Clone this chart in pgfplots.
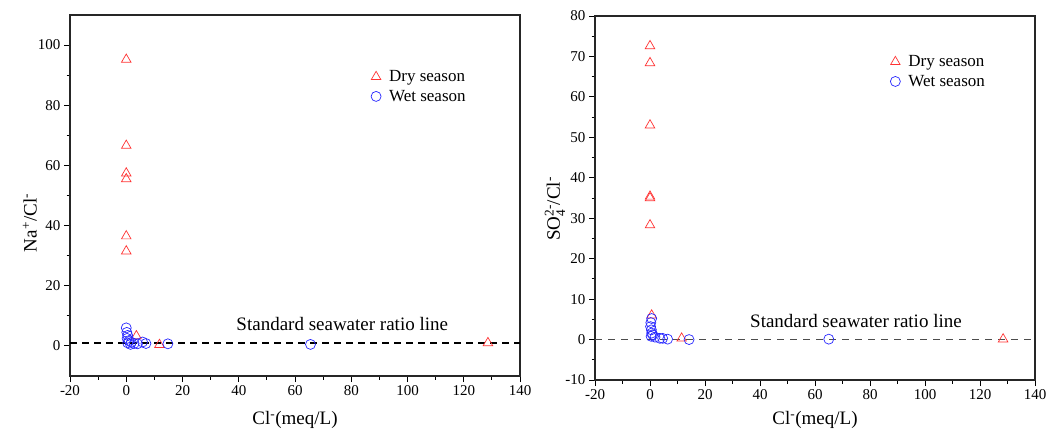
\documentclass[border=0pt]{standalone}
\usepackage{fontspec}
\setmainfont{Liberation Serif}
\usepackage{amsmath}
\usepackage{pgfplots}
\pgfplotsset{compat=1.18}
\definecolor{dryred}{RGB}{255,50,50}
\definecolor{wetblue}{RGB}{40,40,255}
\begin{document}
\begin{tikzpicture}
\pgfplotsset{
  myax/.style={
    scale only axis,
    axis line style={line width=1.2pt, black!85},
    xtick pos=bottom, ytick pos=left,
    tick align=outside,
    major tick length=6pt, minor tick length=3.5pt,
    tick style={line width=1pt, black},
    minor x tick num=1, minor y tick num=1,
    xmin=-20, xmax=140,
    xtick={-20,0,...,140},
    /pgf/number format/assume math mode=true,
    tick label style={font=\fontsize{15}{17}\selectfont},
    label style={font=\fontsize{19}{21}\selectfont},
    legend style={draw=none, fill=none, font=\fontsize{17}{20}\selectfont, anchor=north west, row sep=3pt},
    legend cell align=left,
    clip=false,
  },
  drymark/.style={only marks, mark=triangle, mark size=5.5pt, mark options={dryred, line width=0.7pt}},
  wetmark/.style={only marks, mark=o, mark size=5pt, mark options={wetblue, line width=0.7pt}},
}
% Left panel
\begin{axis}[myax,
  at={(70pt,60pt)}, anchor=south west,
  width=450pt, height=361pt,
  ymin=-10, ymax=110, ytick={0,20,...,100},
  xlabel={Cl\textsuperscript{-}(meq/L)},
  ylabel={Na\textsuperscript{+}/Cl\textsuperscript{-}},
  xlabel style={at={(axis description cs:0.5,-0.122)}, anchor=center},
  ylabel style={at={(axis description cs:-0.089,0.424)}, anchor=center, rotate=0},
  legend style={at={(0.662,0.858)}},
]
\addplot[black, line width=1.5pt, dash pattern=on 7pt off 5pt, forget plot] coordinates {(-20,1) (140,1)};
\addplot[drymark] coordinates {
(0,95.2) (0,66.6) (0,57.4) (0,55.5) (0,36.5) (0,31.5) (3.6,3.3) (11.8,0.4) (128.6,1.0)
};
\addlegendentry{\hspace{6pt}Dry season}
\addplot[wetmark] coordinates {
(0,6.0) (0.2,4.5) (0.5,3.5) (0.3,2.5) (1.0,1.8) (0.5,1.0) (1.8,1.2) (2.8,0.8) (1.5,0.5) (4.0,0.7) (5.8,1.3) (7.0,0.8) (14.8,0.7) (65.5,0.5)
};
\addlegendentry{\hspace{6pt}Wet season}
\node[font=\fontsize{19}{21}\selectfont] at (axis cs:76.8,7.2) {Standard seawater ratio line};
\end{axis}
% Right panel
\begin{axis}[myax,
  at={(595pt,56pt)}, anchor=south west,
  width=440pt, height=364pt,
  ymin=-10, ymax=80, ytick={-10,0,...,80},
  xlabel={Cl\textsuperscript{-}(meq/L)},
  ylabel={SO$_{\text{4}}^{\text{2-}}$/Cl\textsuperscript{-}},
  xlabel style={at={(axis description cs:0.5,-0.11)}, anchor=center},
  ylabel style={at={(axis description cs:-0.091,0.47)}, anchor=center, rotate=0},
  legend style={at={(0.664,0.903)}},
]
\addplot[black!70, line width=1.1pt, dash pattern=on 7pt off 6pt, forget plot] coordinates {(-20,0.1) (140,0.1)};
\addplot[drymark] coordinates {
(0,72.6) (0,68.4) (0,53.0) (0,35.4) (0,35.0) (0,28.3) (0.6,6.0) (11.5,0.3) (128.4,0.1)
};
\addlegendentry{\hspace{6pt}Dry season}
\addplot[wetmark] coordinates {
(0.6,5.2) (0.3,4.2) (0.2,3.2) (0.5,2.4) (0.6,1.6) (1.0,1.2) (0.4,0.8) (1.8,0.6) (3.6,0.3) (4.6,0.3) (6.4,0.1) (14.2,0.0) (65.0,0.1)
};
\addlegendentry{\hspace{6pt}Wet season}
\node[font=\fontsize{19}{21}\selectfont] at (axis cs:74.9,4.5) {Standard seawater ratio line};
\end{axis}
\pgfresetboundingbox
\path (0pt,0pt) rectangle (1048pt,436pt);
\end{tikzpicture}
\end{document}
